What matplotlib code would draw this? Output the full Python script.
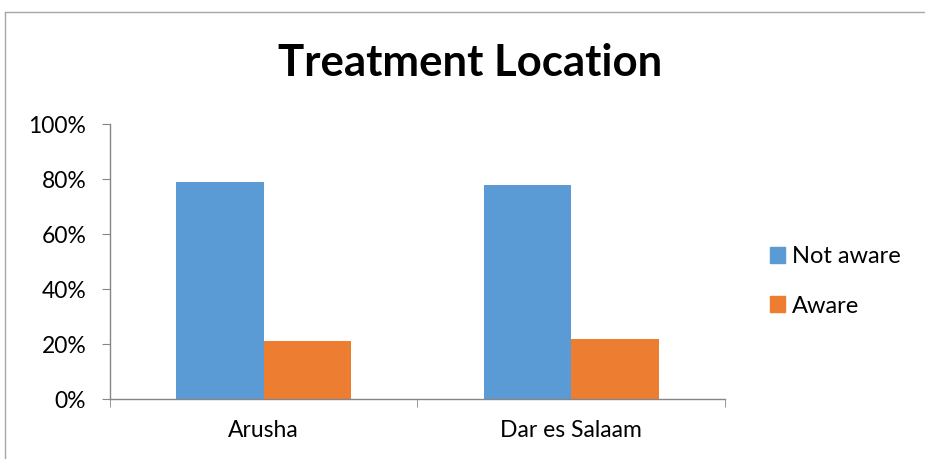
import matplotlib
matplotlib.use("Agg")
import matplotlib.pyplot as plt
from matplotlib.lines import Line2D
from matplotlib.patches import Patch
from matplotlib.ticker import PercentFormatter

# data
locations = ["Arusha", "Dar es Salaam"]
not_aware = [79, 78]
aware = [21, 22]
series_names = ["Not aware", "Aware"]
y_ticks = [0, 20, 40, 60, 80, 100]

BLUE = "#5b9bd5"
ORANGE = "#ed7d31"
AXIS_GREY = "#868686"

plt.rcParams["font.family"] = ["Lato", "DejaVu Sans"]

fig = plt.figure(figsize=(9.25, 4.59), dpi=100)
ax = fig.add_axes([0.1189, 0.1307, 0.6649, 0.5991])

width = 0.285
xs = list(range(len(locations)))
ax.bar([x - width / 2 for x in xs], not_aware, width, color=BLUE)
ax.bar([x + width / 2 for x in xs], aware, width, color=ORANGE)

ax.set_xlim(-0.5, len(locations) - 0.5)
ax.set_ylim(0, 100)
ax.set_yticks(y_ticks)
ax.yaxis.set_major_formatter(PercentFormatter(decimals=0))

# category labels in the middle, tick marks on the boundaries
ax.set_xticks(xs)
ax.set_xticklabels(locations)
ax.set_xticks([x - 0.5 for x in xs] + [xs[-1] + 0.5], minor=True)
ax.tick_params(axis="x", which="major", length=0, pad=15, labelsize=16.5)
ax.tick_params(axis="x", which="minor", length=6, color=AXIS_GREY, direction="out")
ax.tick_params(axis="y", length=6, color=AXIS_GREY, direction="out", pad=11, labelsize=16.5)

for side in ["top", "right"]:
    ax.spines[side].set_visible(False)
for side in ["left", "bottom"]:
    ax.spines[side].set_color(AXIS_GREY)
    ax.spines[side].set_linewidth(1)

fig.text(0.508, 0.862, "Treatment Location", ha="center", va="center",
         fontsize=31.5, fontweight="bold")

handles = [Patch(color=BLUE), Patch(color=ORANGE)]
fig.legend(handles, series_names, loc="center left", bbox_to_anchor=(0.809, 0.387),
           frameon=False, fontsize=17, handlelength=0.64, handleheight=0.64,
           handletextpad=0.3, labelspacing=1.2)

# chart-area border (only top and left edges are visible in the crop)
fig.add_artist(Line2D([0.0054, 1.0], [0.974, 0.974], color="#a6a6a6", lw=1,
                      transform=fig.transFigure))
fig.add_artist(Line2D([0.0054, 0.0054], [0.0, 0.974], color="#a6a6a6", lw=1,
                      transform=fig.transFigure))

fig.savefig("out.png", dpi=100)
